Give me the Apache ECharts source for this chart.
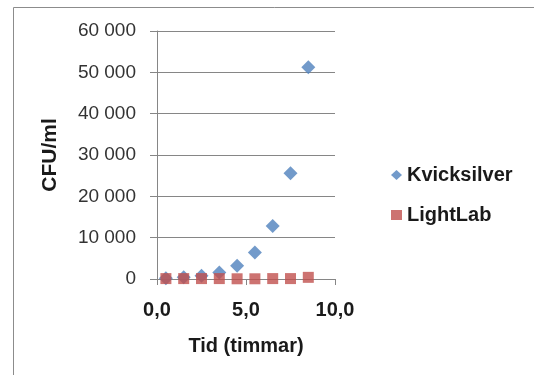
<!DOCTYPE html>
<html>
<head>
<meta charset="utf-8">
<script src="https://cdn.jsdelivr.net/npm/echarts@6/dist/echarts.min.js"></script>
<style>
html,body{margin:0;padding:0;background:#fff}
#chart{width:534px;height:375px}
</style>
</head>
<body>
<div id="chart"></div>
<script>
// tid i timmar
const tid = [0.5, 1.5, 2.5, 3.5, 4.5, 5.5, 6.5, 7.5, 8.5]
const kvicksilver = [200, 400, 800, 1600, 3200, 6400, 12800, 25600, 51200]
const lightlab = [100, 100, 100, 100, 50, 50, 100, 100, 400]

const fmtY = v => String(v).replace(/\B(?=(\d{3})+(?!\d))/g, ' ')
const fmtX = v => v.toFixed(1).replace('.', ',')

const chart = echarts.init(document.getElementById('chart'))
const font = '"Liberation Sans", Arial, sans-serif'

chart.setOption({
    animation: false,
    textStyle: { fontFamily: font },
    graphic: [{
        type: 'rect',
        shape: { x: 13.5, y: 7.5, width: 600, height: 400 },
        style: { fill: 'none', stroke: '#8c8c8c', lineWidth: 1 }
    }],
    grid: { left: 157, right: 199, top: 31, bottom: 96 },
    legend: {
        orient: 'vertical',
        left: 386,
        top: 160,
        itemGap: 20,
        itemWidth: 11,
        itemHeight: 10,
        textStyle: { fontSize: 20, fontWeight: 'bold', color: '#1a1a1a', fontFamily: font },
        data: [
            { name: 'Kvicksilver', icon: 'diamond' },
            { name: 'LightLab', icon: 'rect' }
        ]
    },
    xAxis: {
        type: 'value',
        min: 0, max: 10, interval: 5,
        name: 'Tid (timmar)',
        nameLocation: 'middle',
        nameGap: 57,
        nameTextStyle: { fontSize: 20, fontWeight: 'bold', color: '#1a1a1a' },
        axisLine: { onZero: false, lineStyle: { color: '#868686' } },
        axisTick: { show: true, length: 6, lineStyle: { color: '#868686' } },
        axisLabel: { formatter: fmtX, fontSize: 20, fontWeight: 'bold', color: '#1a1a1a', margin: 21 },
        splitLine: { show: false }
    },
    yAxis: {
        type: 'value',
        min: 0, max: 60000, interval: 10000,
        name: 'CFU/ml',
        nameLocation: 'middle',
        nameGap: 96,
        nameTextStyle: { fontSize: 21, fontWeight: 'bold', color: '#1a1a1a' },
        axisLine: { show: true, lineStyle: { color: '#868686' } },
        axisTick: { show: true, length: 7, lineStyle: { color: '#868686' } },
        axisLabel: { formatter: fmtY, fontSize: 19, color: '#333', margin: 21 },
        splitLine: { lineStyle: { color: '#868686', width: 1 } }
    },
    series: [
        {
            name: 'Kvicksilver',
            type: 'scatter',
            symbol: 'diamond',
            symbolSize: 14,
            itemStyle: { color: '#4f81bd' },
            data: tid.map((t, i) => [t, kvicksilver[i]])
        },
        {
            name: 'LightLab',
            type: 'scatter',
            symbol: 'rect',
            symbolSize: 11,
            itemStyle: { color: '#c0504d' },
            data: tid.map((t, i) => [t, lightlab[i]])
        }
    ]
})
</script>
</body>
</html>
